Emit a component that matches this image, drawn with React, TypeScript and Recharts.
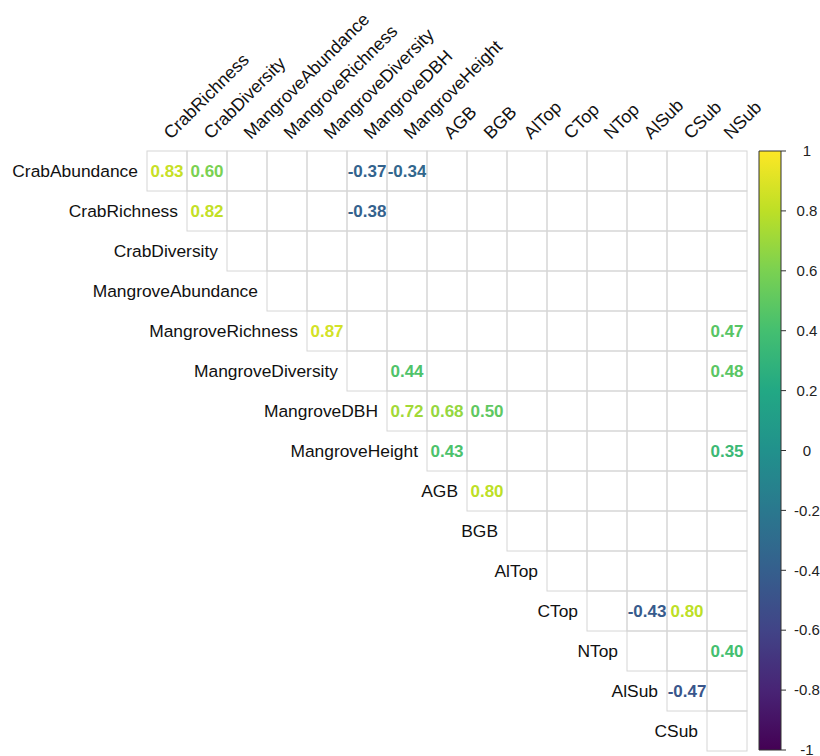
import {
  Bar,
  BarChart,
  Scatter,
  ScatterChart,
  XAxis,
  YAxis,
} from "recharts";

const rowNames = [
  "CrabAbundance",
  "CrabRichness",
  "CrabDiversity",
  "MangroveAbundance",
  "MangroveRichness",
  "MangroveDiversity",
  "MangroveDBH",
  "MangroveHeight",
  "AGB",
  "BGB",
  "AlTop",
  "CTop",
  "NTop",
  "AlSub",
  "CSub",
];

const colNames = [
  "CrabRichness",
  "CrabDiversity",
  "MangroveAbundance",
  "MangroveRichness",
  "MangroveDiversity",
  "MangroveDBH",
  "MangroveHeight",
  "AGB",
  "BGB",
  "AlTop",
  "CTop",
  "NTop",
  "AlSub",
  "CSub",
  "NSub",
];

// significant correlations only: [row, col, r]
const significant: [string, string, number][] = [
  ["CrabAbundance", "CrabRichness", 0.83],
  ["CrabAbundance", "CrabDiversity", 0.6],
  ["CrabAbundance", "MangroveDBH", -0.37],
  ["CrabAbundance", "MangroveHeight", -0.34],
  ["CrabRichness", "CrabDiversity", 0.82],
  ["CrabRichness", "MangroveDBH", -0.38],
  ["MangroveRichness", "MangroveDiversity", 0.87],
  ["MangroveRichness", "NSub", 0.47],
  ["MangroveDiversity", "MangroveHeight", 0.44],
  ["MangroveDiversity", "NSub", 0.48],
  ["MangroveDBH", "MangroveHeight", 0.72],
  ["MangroveDBH", "AGB", 0.68],
  ["MangroveDBH", "BGB", 0.5],
  ["MangroveHeight", "AGB", 0.43],
  ["MangroveHeight", "NSub", 0.35],
  ["AGB", "BGB", 0.8],
  ["CTop", "AlSub", -0.43],
  ["CTop", "CSub", 0.8],
  ["NTop", "NSub", 0.4],
  ["AlSub", "CSub", -0.47],
];

const legendTicks = [1, 0.8, 0.6, 0.4, 0.2, 0, -0.2, -0.4, -0.6, -0.8, -1];

const viridis = [
  "#440154", "#482475", "#414487", "#355f8d", "#2a788e", "#21918c",
  "#22a884", "#44bf70", "#7ad151", "#bddf26", "#fde725",
];

const CELL = 40;
const PLOT_LEFT = 147;
const PLOT_TOP = 151;
const N = 15;
const W = 820;
const H = 756;
const FONT = "'Liberation Sans', Arial, sans-serif";

function hex(c: string) {
  return [1, 3, 5].map((i) => parseInt(c.slice(i, i + 2), 16));
}

function colorFor(v: number) {
  const t = Math.max(0, Math.min(1, (v + 1) / 2)) * (viridis.length - 1);
  const i = Math.min(Math.floor(t), viridis.length - 2);
  const f = t - i;
  const a = hex(viridis[i]);
  const b = hex(viridis[i + 1]);
  const m = a.map((x, k) => Math.round(x + (b[k] - x) * f));
  return `rgb(${m[0]},${m[1]},${m[2]})`;
}

const cells: { x: number; y: number; v: number | null }[] = [];
rowNames.forEach((r, ri) => {
  colNames.forEach((c, ci) => {
    if (ci < ri) return;
    const hit = significant.find((s) => s[0] === r && s[1] === c);
    cells.push({ x: ci, y: ri, v: hit ? hit[2] : null });
  });
});

const rowLabels = rowNames.map((name, i) => ({ x: i, y: i, name }));
// column labels sit on the top edge of the grid
const colLabels = colNames.map((name, i) => ({ x: i, y: -0.5, name }));

const CellShape = (props: any) => {
  const { cx, cy, payload } = props;
  return (
    <g>
      <rect
        x={cx - CELL / 2}
        y={cy - CELL / 2}
        width={CELL}
        height={CELL}
        fill="none"
        stroke="#d6d6d6"
        strokeWidth={1}
      />
      {payload.v !== null && (
        <text
          x={cx}
          y={cy}
          dy="0.35em"
          textAnchor="middle"
          fontSize={17}
          fontWeight="bold"
          fontFamily={FONT}
          fill={colorFor(payload.v)}
        >
          {payload.v.toFixed(2)}
        </text>
      )}
    </g>
  );
};

const RowLabel = (props: any) => {
  const { cx, cy, payload } = props;
  return (
    <text
      x={cx - CELL / 2 - 9}
      y={cy}
      dy="0.35em"
      textAnchor="end"
      fontSize={17.4}
      fontFamily={FONT}
      fill="#111"
    >
      {payload.name}
    </text>
  );
};

const ColLabel = (props: any) => {
  const { cx, cy, payload } = props;
  const tx = cx + 4;
  const ty = cy - 11;
  return (
    <text
      x={tx}
      y={ty}
      transform={`rotate(-45 ${tx} ${ty})`}
      textAnchor="start"
      fontSize={17.8}
      fontFamily={FONT}
      fill="#111"
    >
      {payload.name}
    </text>
  );
};

const BAR_LEFT = 759;
const BAR_RIGHT = 781;

const LegendTick = (props: any) => {
  const { y, payload } = props;
  return (
    <text
      x={BAR_RIGHT + 26}
      y={y}
      dy="0.35em"
      textAnchor="middle"
      fontSize={15}
      fontFamily={FONT}
      fill="#222"
    >
      {String(Number(payload.value.toFixed(1)))}
    </text>
  );
};

export default function App() {
  return (
    <div
      style={{
        position: "absolute",
        left: 0,
        top: 0,
        width: W,
        height: H,
        background: "#fff",
        overflow: "hidden",
      }}
    >
      <div style={{ position: "absolute", left: 0, top: 0 }}>
        <ScatterChart
          width={W}
          height={H}
          margin={{
            top: PLOT_TOP,
            left: PLOT_LEFT,
            right: W - PLOT_LEFT - N * CELL,
            bottom: H - PLOT_TOP - N * CELL,
          }}
        >
          <XAxis
            type="number"
            dataKey="x"
            domain={[-0.5, N - 0.5]}
            hide
          />
          <YAxis
            type="number"
            dataKey="y"
            domain={[-0.5, N - 0.5]}
            reversed
            hide
          />
          <Scatter data={cells} shape={<CellShape />} isAnimationActive={false} />
          <Scatter data={rowLabels} shape={<RowLabel />} isAnimationActive={false} />
          <Scatter data={colLabels} shape={<ColLabel />} isAnimationActive={false} />
        </ScatterChart>
      </div>
      <div style={{ position: "absolute", left: 0, top: 0 }}>
        <BarChart
          width={W}
          height={H}
          data={[{ name: "r", range: [-1, 1] }]}
          barCategoryGap={0}
          margin={{ top: PLOT_TOP, left: BAR_LEFT, right: 0, bottom: 6 }}
        >
          <defs>
            <linearGradient id="viridisGrad" x1="0" y1="0" x2="0" y2="1">
              {viridis
                .slice()
                .reverse()
                .map((c, i) => (
                  <stop key={i} offset={`${i * 10}%`} stopColor={c} />
                ))}
            </linearGradient>
          </defs>
          <XAxis dataKey="name" hide />
          <YAxis
            orientation="right"
            type="number"
            domain={[-1, 1]}
            ticks={legendTicks}
            interval={0}
            width={W - BAR_RIGHT}
            axisLine={false}
            tickSize={5}
            tickLine={{ stroke: "#333" }}
            tick={<LegendTick />}
          />
          <Bar
            dataKey="range"
            fill="url(#viridisGrad)"
            stroke="#333"
            strokeWidth={1}
            isAnimationActive={false}
          />
        </BarChart>
      </div>
    </div>
  );
}
